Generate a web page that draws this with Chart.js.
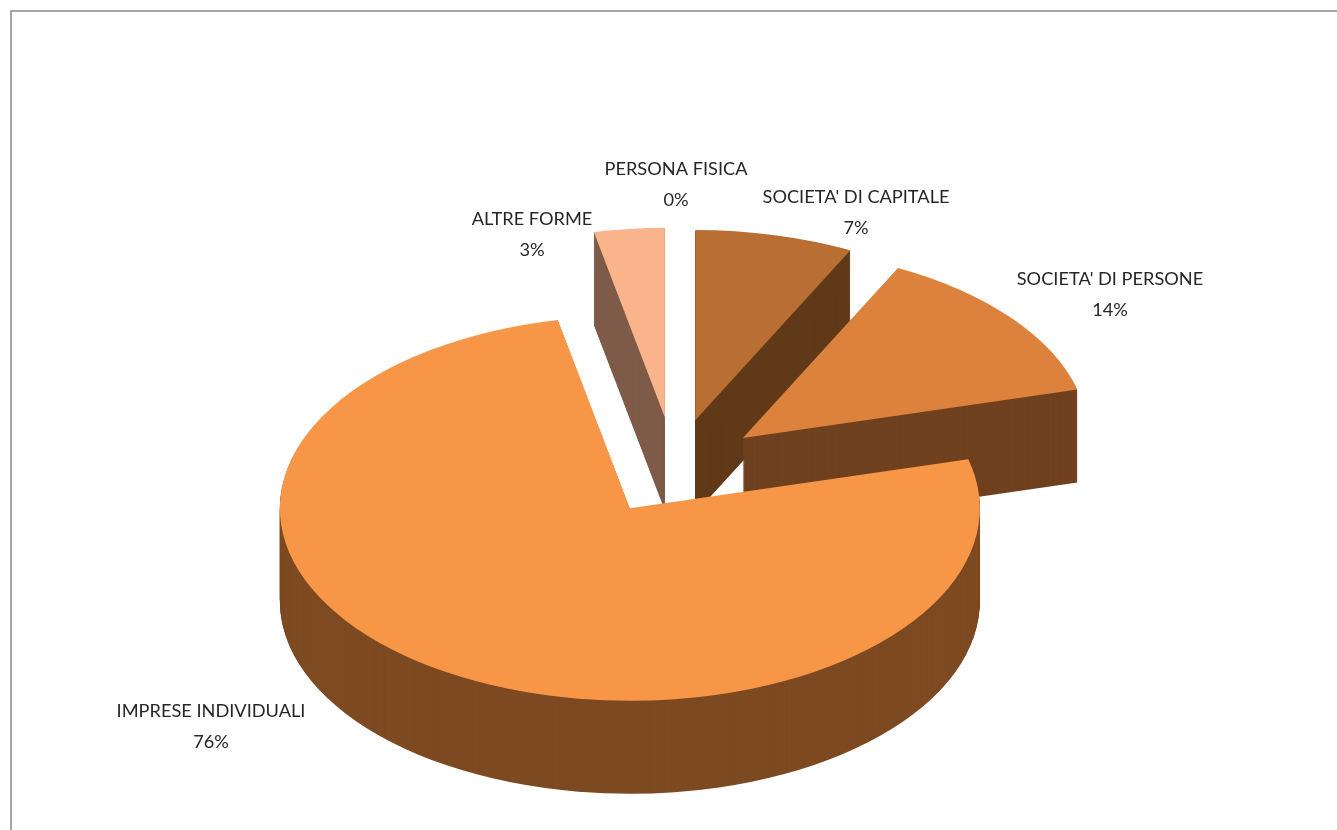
<!DOCTYPE html>
<html>
<head>
<meta charset="utf-8">
<title>Forme giuridiche</title>
<script src="https://cdn.jsdelivr.net/npm/chart.js@4/dist/chart.umd.min.js"></script>
<style>
html, body { margin: 0; padding: 0; background: #fff; overflow: hidden; }
#frame { position: absolute; left: 10px; top: 10px; width: 1327px; height: 820px; box-sizing: border-box; border-left: 2px solid #a6a6a6; border-top: 2px solid #a6a6a6; }
#wrap { position: absolute; left: 0; top: 0; width: 1337px; height: 830px; }
</style>
</head>
<body>
<div id="frame"></div>
<div id="wrap"><canvas id="pieChart" width="1337" height="830"></canvas></div>
<script>
const categories = ['PERSONA FISICA', "SOCIETA' DI CAPITALE", "SOCIETA' DI PERSONE", 'IMPRESE INDIVIDUALI', 'ALTRE FORME'];
const values = [0, 7.4, 13.5, 75.8, 3.3];

const topColors = ['#f2f2f2', '#b96f33', '#dc823c', '#f79646', '#fab48c'];
const wallColors = ['#999999', '#5f3918', '#70411f', '#7d4a22', '#7f5b49'];
// how far each slice is pulled out of the pie
const explode = [0, 90, 88, 85, 93];
// the back slices look a little smaller in the original
const radii = [350, 346, 346, 350, 345];

const squash = 0.55;
const depth = 93;
// label centres in page pixels, same order as categories
const labelX = [676, 856, 1110, 211, 532];
const labelY = [169, 197, 279, 711, 219];

function squashAround(ctx, chart, shift) {
    const cy = (chart.chartArea.top + chart.chartArea.bottom) / 2;
    ctx.translate(0, cy + shift);
    ctx.scale(1, squash);
    ctx.translate(0, -cy);
}

const pie3d = {
    id: 'pie3d',
    beforeDatasetsDraw(chart) {
        const ctx = chart.ctx;
        const area = chart.chartArea;
        const arcs = chart.getDatasetMeta(0).data;
        // move the arcs out by hand, the offset option also narrows small slices
        arcs.forEach((arc, i) => {
            const mid = (arc.startAngle + arc.endAngle) / 2;
            arc.x = (area.left + area.right) / 2 + Math.cos(mid) * explode[i];
            arc.y = (area.top + area.bottom) / 2 + Math.sin(mid) * explode[i];
            arc.outerRadius = radii[i];
        });
        // side walls: the same arc stacked downwards in the dark colour
        arcs.forEach((arc, i) => {
            if (!values[i]) return;
            const saved = arc.options;
            arc.options = Object.assign({}, saved, { backgroundColor: wallColors[i] });
            for (let d = depth; d > 0; d--) {
                ctx.save();
                squashAround(ctx, chart, d);
                arc.draw(ctx);
                ctx.restore();
            }
            arc.options = saved;
        });
        ctx.save();
        squashAround(ctx, chart, 0);
    },
    afterDatasetsDraw(chart) {
        chart.ctx.restore();
    },
    afterDraw(chart) {
        const ctx = chart.ctx;
        ctx.save();
        ctx.font = '18.2px Lato';
        ctx.fillStyle = '#262626';
        ctx.textAlign = 'center';
        ctx.textBaseline = 'middle';
        categories.forEach((name, i) => {
            ctx.fillText(name, labelX[i], labelY[i]);
            ctx.fillText(Math.round(values[i]) + '%', labelX[i], labelY[i] + 31);
        });
        ctx.restore();
    }
};

new Chart(document.getElementById('pieChart').getContext('2d'), {
    type: 'pie',
    data: {
        labels: categories,
        datasets: [{
            data: values,
            backgroundColor: topColors,
            borderWidth: 0,
            clip: false
        }]
    },
    options: {
        responsive: false,
        animation: false,
        radius: 350,
        layout: { padding: { left: 12, right: 0, top: 107, bottom: 0 } },
        plugins: {
            legend: { display: false },
            tooltip: { enabled: false }
        }
    },
    plugins: [pie3d]
});
</script>
</body>
</html>
